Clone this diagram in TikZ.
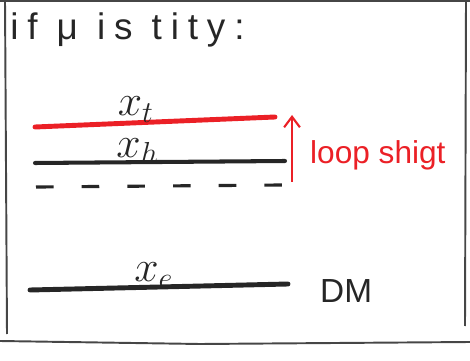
\documentclass[tikz,border=0pt]{standalone}
\usepackage{fontspec}
\setsansfont{Liberation Sans}
\newfontfamily\handfont[LetterSpace=24]{Liberation Sans}
\usetikzlibrary{arrows.meta,positioning}
\definecolor{inkred}{RGB}{235,32,38}
\definecolor{inkblack}{RGB}{38,38,38}
\definecolor{inkframe}{RGB}{70,70,70}

\begin{document}
\begin{tikzpicture}[x=0.02cm, y=-0.02cm,
  level/.style={inkblack, line width=2.3pt, line cap=round},
  shifted/.style={inkred, line width=2.8pt, line cap=round},
  lvlabel/.style={anchor=south, inner sep=0pt, font=\fontsize{26}{28}\selectfont, inkblack}]
\useasboundingbox (0,0) rectangle (470,361);
% frame
\draw[inkframe, line width=1.1pt] (0,1) -- (470,1);
\draw[inkframe, line width=1.1pt] (5,0) -- (7,334);
\draw[inkframe, line width=1.1pt] (466,0) -- (465,326);
\draw[inkframe, line width=1.1pt] (0,341) -- (200,344) -- (470,342);
% title
\node[anchor=base west, inner sep=0pt, inkblack, font=\handfont\fontsize{21}{24}\selectfont] (title) at (10,40) {if μ is tity:};
% shifted level (red)
\draw[shifted] (35,127) coordinate (tL) -- (275,117) coordinate (tR)
  node[lvlabel, pos=0.42, yshift=-1pt] (xt) {$x_{t}$};
% bare level
\draw[level] (35,163) coordinate (hL) -- (285,161) coordinate (hR)
  node[lvlabel, pos=0.41, yshift=-2pt] (xh) {$x_{h}$};
% dashed reference
\draw[level, line width=1.8pt, line cap=butt, dash pattern=on 10pt off 16pt] (36,187) coordinate (dL) -- (284,185) coordinate (dR);
% loop shift arrow
\coordinate (aB) at (292,182);
\coordinate (aT) at (292,115);
\draw[inkred, line width=1.2pt, -{Straight Barb[length=6pt,width=9pt]}] (aB) -- (aT);
\node[inkred, anchor=west, font=\sffamily\fontsize{18}{20}\selectfont] (shift) at (304,155) {loop shigt};
% DM level
\draw[level, line width=2.8pt] (30,290) coordinate (eL) -- (288,284) coordinate (eR)
  node[lvlabel, pos=0.48, yshift=-2pt, font=\fontsize{26}{28}\selectfont] (xe) {$x_{e}$};
\node[inkblack, anchor=west, font=\sffamily\fontsize{19}{21}\selectfont] (dm) at (314,291) {DM};
\end{tikzpicture}
\end{document}
